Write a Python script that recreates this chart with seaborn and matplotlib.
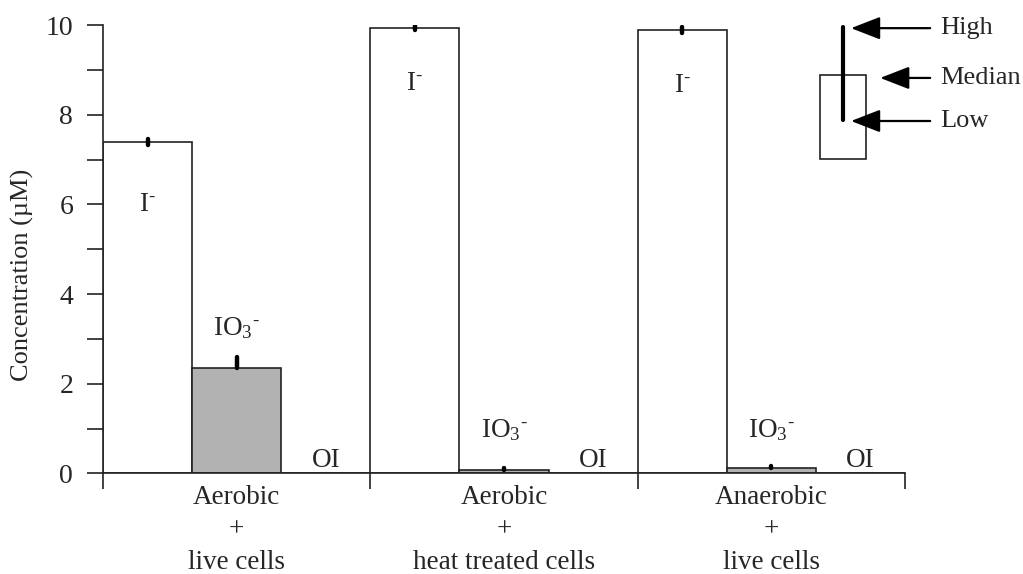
import matplotlib
matplotlib.use("Agg")
import matplotlib.pyplot as plt
import numpy as np
import pandas as pd
import seaborn as sns

# Treatments and measured iodine species
groups = ["Aerobic\n+\nlive cells", "Aerobic\n+\nheat treated cells", "Anaerobic\n+\nlive cells"]
species = ["I-", "IO3-", "OI"]
species_labels = [r"I$^{\text{-}}$", r"IO$_{3}{}^{\text{-}}$", "OI"]

# Concentrations (µM), one list per species across the three treatments
iodide = [7.39, 9.94, 9.89]
iodate = [2.35, 0.07, 0.12]
organic = [0.0, 0.0, 0.0]
# Error bar extents below / above each mean
iodide_err_lo = [0.07, 0.06, 0.06]
iodide_err_hi = [0.07, 0.06, 0.06]
iodate_err_lo = [0.0, 0.0, 0.0]
iodate_err_hi = [0.25, 0.05, 0.05]

# Label heights (µM) for the species names
iodide_label_y = [5.85, 8.55, 8.50]
iodate_label_y = [3.08, 0.81, 0.81]
organic_label_y = [0.15, 0.15, 0.15]

df = pd.DataFrame({
    "group": groups * 3,
    "species": [species[0]] * 3 + [species[1]] * 3 + [species[2]] * 3,
    "conc": iodide + iodate + organic,
})

sns.set_theme(style="ticks")
plt.rcParams["font.family"] = ["Liberation Serif", "DejaVu Serif"]
plt.rcParams["mathtext.fontset"] = "custom"
plt.rcParams["mathtext.rm"] = "Liberation Serif"
plt.rcParams["mathtext.it"] = "Liberation Serif"
plt.rcParams["mathtext.default"] = "regular"

fig = plt.figure(figsize=(10.23, 5.74), dpi=100)
ax = fig.add_axes([0.1007, 0.1751, 0.784, 0.7813])

fs = 19.5
sns.barplot(data=df, x="group", y="conc", hue="species", order=groups, hue_order=species,
            palette=["white", "#b2b2b2", "white"], width=1.0, gap=0, errorbar=None,
            edgecolor="#222222", linewidth=1.2, saturation=1, legend=False, ax=ax, zorder=2)

errs = [(iodide_err_lo, iodide_err_hi), (iodate_err_lo, iodate_err_hi)]
label_ys = [iodide_label_y, iodate_label_y, organic_label_y]
bar_sets = list(ax.containers)
for k, cont in enumerate(bar_sets):
    xs = np.array([b.get_x() + b.get_width() / 2 for b in cont])
    hs = np.array([b.get_height() for b in cont])
    if k < 2:
        lo, hi = errs[k]
        eb = ax.errorbar(xs, hs, yerr=[lo, hi], fmt="none", ecolor="black",
                         elinewidth=3.2, capsize=0, zorder=4)
        for col in eb[2]:
            col.set_capstyle("round")
    for x, y in zip(xs, label_ys[k]):
        ax.text(x, y, species_labels[k], ha="center", va="baseline", fontsize=fs, zorder=5)

ax.set_xlim(-0.5, 2.5)
ax.set_ylim(0, 10)
ax.set_yticks([0, 2, 4, 6, 8, 10])
ax.set_yticks([1, 3, 5, 7, 9], minor=True)
ax.set_xticks([-0.5, 0.5, 1.5, 2.5])
ax.set_xticklabels([])
ax.set_xticks([0, 1, 2], minor=True)
ax.set_xticklabels(groups, minor=True, linespacing=1.38)
ax.tick_params(axis="both", which="major", direction="out", length=11.5, width=1.2,
               color="#222222", labelsize=20, pad=10)
ax.tick_params(axis="y", which="minor", direction="out", length=11.5, width=1.2, color="#222222")
ax.tick_params(axis="x", which="minor", length=0, labelsize=fs, pad=8.5)
ax.set_xlabel("")
ax.set_ylabel("Concentration (µM)", fontsize=19)
ax.yaxis.set_label_coords(-0.086, 0.443)
sns.despine(ax=ax)
for s in ("left", "bottom"):
    ax.spines[s].set_linewidth(1.2)
    ax.spines[s].set_color("#222222")

# Key explaining the high / median / low markers
ax.add_patch(plt.Rectangle((2.182, 7.01), 0.172, 1.88, fill=False, edgecolor="#222222",
                           linewidth=1.2, clip_on=False, zorder=3))
ax.plot([2.268, 2.268], [7.88, 9.96], color="black", linewidth=3, clip_on=False, zorder=3)
key = [("High", 9.93, 2.298), ("Median", 8.82, 2.407), ("Low", 7.86, 2.298)]
for txt, y, tip in key:
    ax.annotate("", xy=(tip, y), xytext=(2.594, y), annotation_clip=False,
                arrowprops=dict(arrowstyle="-|>,head_length=0.9,head_width=0.35",
                                color="black", lw=1.6, mutation_scale=20,
                                shrinkA=0, shrinkB=0))
    ax.text(2.631, y, txt, ha="left", va="center", fontsize=19, clip_on=False)

fig.savefig("out.png", dpi=100)
